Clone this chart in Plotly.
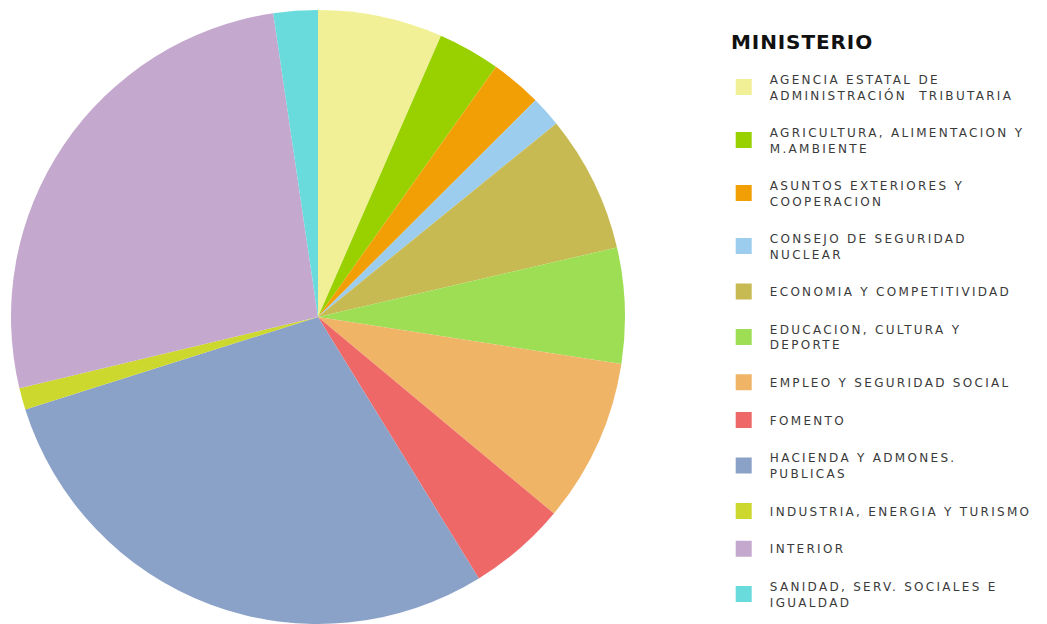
import plotly.graph_objects as go

categories = [
    "AGENCIA ESTATAL DE<br>ADMINISTRACIÓN  TRIBUTARIA",
    "AGRICULTURA, ALIMENTACION Y<br>M.AMBIENTE",
    "ASUNTOS EXTERIORES Y<br>COOPERACION",
    "CONSEJO DE SEGURIDAD<br>NUCLEAR",
    "ECONOMIA Y COMPETITIVIDAD",
    "EDUCACION, CULTURA Y<br>DEPORTE",
    "EMPLEO Y SEGURIDAD SOCIAL",
    "FOMENTO",
    "HACIENDA Y ADMONES.<br>PUBLICAS",
    "INDUSTRIA, ENERGIA Y TURISMO",
    "INTERIOR",
    "SANIDAD, SERV. SOCIALES E<br>IGUALDAD",
]
values = [6.56, 3.28, 2.69, 1.61, 7.22, 6.08, 8.61, 5.17, 28.9, 1.14, 26.4, 2.33]
colors = [
    "#F2F096", "#99D100", "#F29F05", "#9DCDEE", "#C8BA52", "#9EDE55",
    "#F0B466", "#EE6868", "#8BA2C8", "#CCD82E", "#C4A8CE", "#6ADBDC",
]
legend_title = "MINISTERIO"

W, H = 1047, 624


def spaced(label, ls=2.3):
    lines = label.split("<br>")
    return "<br>".join(
        f'<span style="letter-spacing:{ls}px">\u00a0{ln}</span>' for ln in lines
    )


fig = go.Figure()
fig.add_trace(go.Pie(
    labels=categories,
    values=values,
    marker=dict(colors=colors, line=dict(width=0)),
    sort=False,
    direction="clockwise",
    rotation=0,
    textinfo="none",
    hoverinfo="label+percent",
    showlegend=False,
    domain=dict(x=[11 / W, 625 / W], y=[0, 614 / H]),
))

# legend entries (one per category, same colours as the slices)
for name, col in zip(categories, colors):
    fig.add_trace(go.Scatter(
        x=[None], y=[None], mode="markers", name=spaced(name),
        legendgroup=name,
        marker=dict(symbol="square", size=16, color=col),
        hoverinfo="skip",
    ))

fig.add_annotation(
    text=f'<b><span style="letter-spacing:0.9px">{legend_title}</span></b>',
    xref="paper", yref="paper", x=729 / W, y=1 - 42 / H,
    xanchor="left", yanchor="middle", showarrow=False,
    font=dict(family="DejaVu Sans", size=20, color="#111111"),
)

fig.update_layout(
    width=W, height=H,
    margin=dict(l=0, r=0, t=0, b=0),
    paper_bgcolor="white", plot_bgcolor="white",
    xaxis=dict(visible=False), yaxis=dict(visible=False),
    font=dict(family="DejaVu Sans", color="#3a3a3a"),
    legend=dict(
        x=723.7 / W, xanchor="left", y=1 - 65 / H, yanchor="top",
        traceorder="grouped", tracegroupgap=18.8,
        font=dict(family="DejaVu Sans", size=12, color="#3a3a3a"),
        itemsizing="trace",
    ),
)

fig.write_html("out.html", config={"displayModeBar": False},
               post_script="document.body.style.margin='0';")
